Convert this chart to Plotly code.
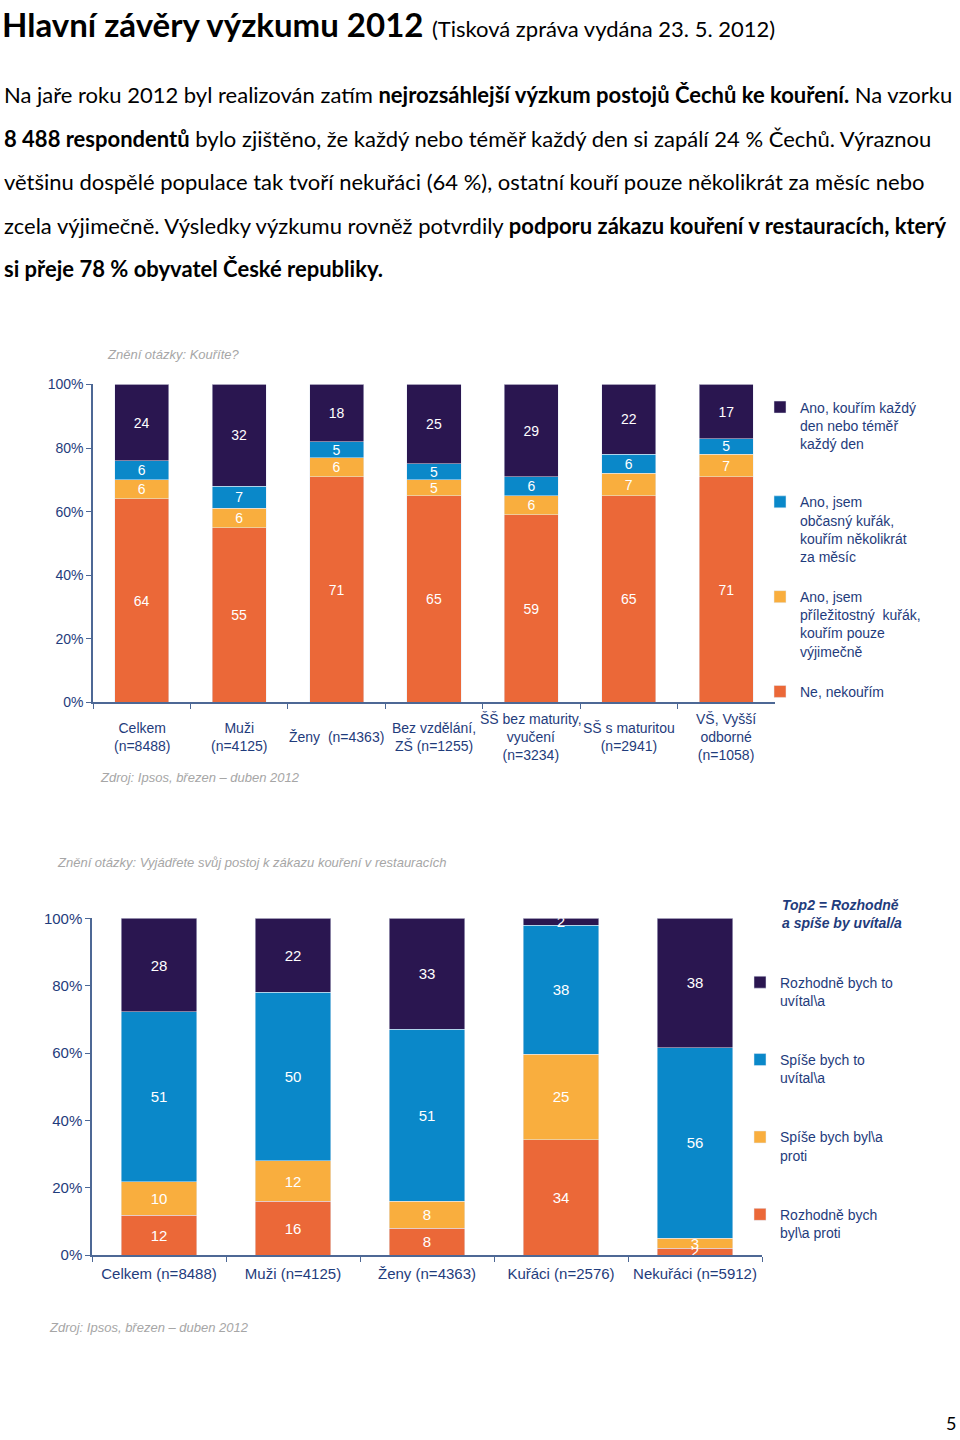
import plotly.graph_objects as go

# ---------------- data ----------------
top_categories = ["Celkem<br>(n=8488)", "Muži<br>(n=4125)", "Ženy  (n=4363)",
                  "Bez vzdělání,<br>ZŠ (n=1255)", "ŠŠ bez maturity,<br>vyučení<br>(n=3234)",
                  "SŠ s maturitou<br>(n=2941)", "VŠ, Vyšší<br>odborné<br>(n=1058)"]
top_series_names = ["Ne, nekouřím",
                    "Ano, jsem<br>příležitostný  kuřák,<br>kouřím pouze<br>výjimečně",
                    "Ano, jsem<br>občasný kuřák,<br>kouřím několikrát<br>za měsíc",
                    "Ano, kouřím každý<br>den nebo téměř<br>každý den<br> "]
top_nekourim = [64, 55, 71, 65, 59, 65, 71]
top_prilezitostny = [6, 6, 6, 5, 6, 7, 7]
top_obcasny = [6, 7, 5, 5, 6, 6, 5]
top_kazdy_den = [24, 32, 18, 25, 29, 22, 17]

bot_categories = ["Celkem (n=8488)", "Muži (n=4125)", "Ženy (n=4363)",
                  "Kuřáci (n=2576)", "Nekuřáci (n=5912)"]
bot_series_names = ["Rozhodně bych<br>byl\\a proti", "Spíše bych byl\\a<br>proti",
                    "Spíše bych to<br>uvítal\\a", "Rozhodně bych to<br>uvítal\\a"]
bot_rozhodne_proti = [12, 16, 8, 34, 2]
bot_spise_proti = [10, 12, 8, 25, 3]
bot_spise_uvital = [51, 50, 51, 38, 56]
bot_rozhodne_uvital = [28, 22, 33, 2, 38]
bot_top2 = [78, 72, 84, 41, 95]

# ---------------- styles ----------------
C_ORANGE = "#EB6838"
C_YELLOW = "#F9AE3E"
C_BLUE = "#0A88C9"
C_DARK = "#2A1650"
colors = [C_ORANGE, C_YELLOW, C_BLUE, C_DARK]
NAVY = "#1F3C7C"
AXIS = "#4D6895"
GRAY = "#A6A6A6"
ARIAL = "Liberation Sans, Arial, sans-serif"
BODY = "Lato, sans-serif"

W, H = 960, 1440


def px_x(x):
    return x / W


def px_y(y):
    return 1 - y / H


def tgt_y(y):
    # target screen pixel -> paper fraction (compensates the page capture offset/scale)
    return px_y((y - 8.4) / 0.9885)


fig = go.Figure()

top_values = [top_nekourim, top_prilezitostny, top_obcasny, top_kazdy_den]
for i, (name, vals) in enumerate(zip(top_series_names, top_values)):
    fig.add_trace(go.Bar(
        x=top_categories, y=vals, name=name, marker_color=colors[i],
        text=vals, texttemplate="%{text}", textposition="inside",
        insidetextanchor="middle", textangle=0, constraintext="none",
        textfont=dict(color="white", size=14, family=ARIAL),
        width=0.555, xaxis="x", yaxis="y", legend="legend",
        legendgroup="t%d" % i, legendrank=10 - i, hoverinfo="skip"))

bot_values = [bot_rozhodne_proti, bot_spise_proti, bot_spise_uvital, bot_rozhodne_uvital]
for i, (name, vals) in enumerate(zip(bot_series_names, bot_values)):
    fig.add_trace(go.Bar(
        x=bot_categories, y=vals, name=name, marker_color=colors[i],
        text=vals, texttemplate="%{text}", textposition="inside",
        insidetextanchor="middle", textangle=0, constraintext="none",
        textfont=dict(color="white", size=15, family=ARIAL),
        width=0.567, xaxis="x2", yaxis="y2", legend="legend2",
        legendgroup="b%d" % i, legendrank=10 - i, hoverinfo="skip"))

# Top2 values above bars
fig.add_trace(go.Scatter(
    x=bot_categories, y=[104.6] * len(bot_categories), mode="text",
    text=["<b><i>%d</i></b>" % v for v in bot_top2],
    textfont=dict(color=NAVY, size=15, family=ARIAL),
    cliponaxis=False, showlegend=False, xaxis="x2", yaxis="y2", hoverinfo="skip"))

axis_common = dict(showline=True, linecolor=AXIS, linewidth=1.5, ticks="outside",
                   tickcolor=AXIS, ticklen=5, showgrid=False, zeroline=False)

fig.update_layout(
    width=W, height=H, margin=dict(l=0, r=0, t=0, b=0),
    paper_bgcolor="white", plot_bgcolor="white",
    barmode="stack", barnorm="percent",
    showlegend=True,
    xaxis=dict(domain=[px_x(93), px_x(775)], type="category", tickson="boundaries",
               showticklabels=False, range=[-0.5, 6.5], anchor="y", **axis_common),
    yaxis=dict(domain=[tgt_y(702), tgt_y(384)], range=[0, 100], dtick=20, ticksuffix="%",
               tickfont=dict(size=14, color=NAVY, family=ARIAL), anchor="x", **axis_common),
    xaxis2=dict(domain=[px_x(92), px_x(762)], type="category", tickson="boundaries",
                range=[-0.5, 4.5], tickfont=dict(size=15, color=NAVY, family=ARIAL),
                ticklabelstandoff=4, anchor="y2", **axis_common),
    yaxis2=dict(domain=[tgt_y(1255), tgt_y(918)], range=[0, 100], dtick=20, ticksuffix="%",
                tickfont=dict(size=15, color=NAVY, family=ARIAL), anchor="x2", **axis_common),
    legend=dict(x=px_x(760), y=px_y(387), xanchor="left", yanchor="top",
                traceorder="grouped", tracegroupgap=19, valign="top",
                itemwidth=30, font=dict(size=14, color=NAVY, family=ARIAL),
                bgcolor="rgba(0,0,0,0)"),
    legend2=dict(x=px_x(740), y=px_y(969), xanchor="left", yanchor="top",
                 traceorder="grouped", tracegroupgap=38, valign="top",
                 itemwidth=30, font=dict(size=14, color=NAVY, family=ARIAL),
                 bgcolor="rgba(0,0,0,0)"),
)

# red ellipse around first Top2 value
fig.add_shape(type="circle", xref="x2", yref="y2", x0=-0.165, x1=0.165, y0=100.9, y1=108.3,
              line=dict(color="#E0201B", width=2.5))

ann = []
# page header
ann.append(dict(x=px_x(1), y=1, xref="paper", yref="paper", xanchor="left", yanchor="top",
                borderpad=0, yshift=6,
                text="<b>Hlavní závěry výzkumu 2012</b> <span style='font-size:22px'>(Tisková zpráva vydána 23. 5. 2012)</span>",
                font=dict(size=33, color="black", family=BODY), showarrow=False))
body_lines = [
    "Na jaře roku 2012 byl realizován zatím <b>nejrozsáhlejší výzkum postojů Čechů ke kouření.</b> Na vzorku",
    "<b>8 488 respondentů</b> bylo zjištěno, že každý nebo téměř každý den si zapálí 24 % Čechů. Výraznou",
    "většinu dospělé populace tak tvoří nekuřáci (64 %), ostatní kouří pouze několikrát za měsíc nebo",
    "zcela výjimečně. Výsledky výzkumu rovněž potvrdily <b>podporu zákazu kouření v restauracích, který</b>",
    "<b>si přeje 78 % obyvatel České republiky.</b>",
]
body_y = [94, 138, 181, 225, 268]
for t, yy in zip(body_lines, body_y):
    ann.append(dict(x=px_x(2), y=tgt_y(yy), xref="paper", yref="paper", xanchor="left", yanchor="middle",
                    text=t, font=dict(size=22, color="black", family=BODY), showarrow=False))

# top chart texts
ann.append(dict(x=px_x(105), y=tgt_y(354), xref="paper", yref="paper", xanchor="left", yanchor="middle",
                text="<i>Znění otázky: Kouříte?</i>", font=dict(size=13, color=GRAY, family=ARIAL),
                showarrow=False))
ann.append(dict(x=px_x(98), y=tgt_y(777), xref="paper", yref="paper", xanchor="left", yanchor="middle",
                text="<i>Zdroj: Ipsos, březen – duben 2012</i>", font=dict(size=13, color=GRAY, family=ARIAL),
                showarrow=False))
for c in top_categories:
    ann.append(dict(x=c, y=tgt_y(737), xref="x", yref="paper", xanchor="center", yanchor="middle",
                    text=c, font=dict(size=14, color=NAVY, family=ARIAL), showarrow=False))

# bottom chart texts
ann.append(dict(x=px_x(55), y=tgt_y(862), xref="paper", yref="paper", xanchor="left", yanchor="middle",
                text="<i>Znění otázky: Vyjádřete svůj postoj k zákazu kouření v restauracích</i>",
                font=dict(size=13, color=GRAY, family=ARIAL), showarrow=False))
ann.append(dict(x=px_x(47), y=tgt_y(1327), xref="paper", yref="paper", xanchor="left", yanchor="middle",
                text="<i>Zdroj: Ipsos, březen – duben 2012</i>", font=dict(size=13, color=GRAY, family=ARIAL),
                showarrow=False))
ann.append(dict(x=px_x(780), y=tgt_y(914), xref="paper", yref="paper", xanchor="left", yanchor="middle",
                text="<b><i>Top2 = Rozhodně<br>a spíše by uvítal/a</i></b>", align="left",
                font=dict(size=14, color=NAVY, family=ARIAL), showarrow=False))

# page number
ann.append(dict(x=px_x(958), y=0, xref="paper", yref="paper", xanchor="right", yanchor="bottom",
                yshift=-4, text="5", font=dict(size=18, color="black", family=BODY), showarrow=False))

fig.update_layout(annotations=ann)
fig.write_html("out.html", config={"displayModeBar": False},
               post_script="document.body.style.margin='0';document.body.style.padding='0';")
